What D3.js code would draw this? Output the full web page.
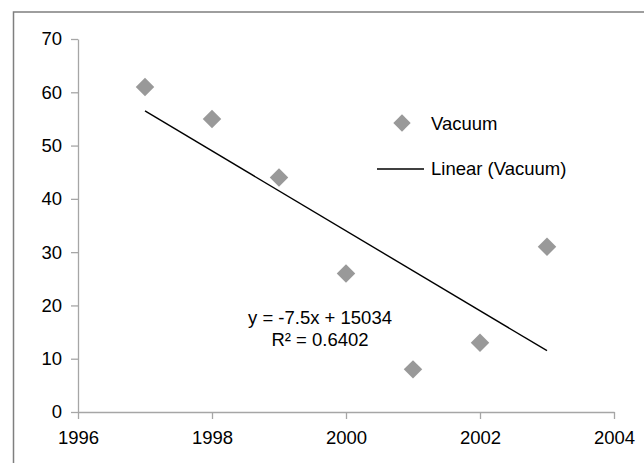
<!DOCTYPE html>
<html>
<head>
<meta charset="utf-8">
<script src="https://cdn.jsdelivr.net/npm/d3@7"></script>
<style>
  body { margin: 0; background: #fff; }
  svg text { font-family: "Liberation Sans", Arial, sans-serif; font-size: 18.5px; fill: #000; }
  .axis path, .axis line { stroke: #a6a6a6; stroke-width: 1.3px; }
</style>
</head>
<body>
<div id="chart"></div>
<script>

// DATA

const years = [1997, 1998, 1999, 2000, 2001, 2002, 2003];
const vacuum = [61, 55, 44, 26, 8, 13, 31];
const xTicks = [1996, 1998, 2000, 2002, 2004];
const yTicks = [0, 10, 20, 30, 40, 50, 60, 70];
const seriesName = "Vacuum";
const trendName = "Linear (Vacuum)";
const equationText = "y = -7.5x + 15034";
const r2Text = "R² = 0.6402";

// CANVAS

const width = 644;
const height = 463;
const margin = {top: 39, left: 78, right: 30, bottom: 51};

const svg = d3.select("#chart")
    .append("svg")
    .attr("width", width)
    .attr("height", height);

// chart border (runs off the right and bottom edges)
svg.append("rect")
    .attr("x", 13.5)
    .attr("y", 12)
    .attr("width", width + 20)
    .attr("height", height + 20)
    .attr("fill", "none")
    .attr("stroke", "#7f7f7f")
    .attr("stroke-width", 1.5);

// SCALES

const xScale = d3.scaleLinear()
    .domain([1996, 2004])
    .range([margin.left, width - margin.right]);

const yScale = d3.scaleLinear()
    .domain([0, 70])
    .range([height - margin.bottom, margin.top]);

// AXES

const xAxis = svg.append("g")
    .attr("class", "axis")
    .attr("transform", `translate(0, ${yScale(0)})`)
    .call(d3.axisBottom(xScale).tickValues(xTicks).tickFormat(d3.format("d")).tickSizeInner(7).tickSizeOuter(0).tickPadding(12));

const yAxis = svg.append("g")
    .attr("class", "axis")
    .attr("transform", `translate(${xScale(1996)}, 0)`)
    .call(d3.axisLeft(yScale).tickValues(yTicks).tickSizeInner(7).tickSizeOuter(0).tickPadding(9));

svg.selectAll(".axis text")
    .style("font-size", "18.5px")
    .attr("fill", "#000");

// TRENDLINE (least squares)

const mx = d3.mean(years);
const my = d3.mean(vacuum);
const slope = d3.sum(years, (x, i) => (x - mx) * (vacuum[i] - my)) / d3.sum(years, x => (x - mx) * (x - mx));
const intercept = my - slope * mx;
const xr = d3.extent(years);

svg.append("line")
    .attr("x1", xScale(xr[0]))
    .attr("y1", yScale(slope * xr[0] + intercept))
    .attr("x2", xScale(xr[1]))
    .attr("y2", yScale(slope * xr[1] + intercept))
    .attr("stroke", "#000")
    .attr("stroke-width", 1.4);

// POINTS

const diamond = d3.symbol().type(d3.symbolSquare).size(170);

svg.selectAll(".pt")
    .data(years)
    .enter()
    .append("path")
        .attr("class", "pt")
        .attr("d", diamond)
        .attr("transform", (d, i) => `translate(${xScale(d)}, ${yScale(vacuum[i])}) rotate(45)`)
        .attr("fill", "#999999");

// EQUATION LABEL

svg.append("text")
    .attr("x", 320)
    .attr("y", 324)
    .attr("text-anchor", "middle")
    .text(equationText);

svg.append("text")
    .attr("x", 320)
    .attr("y", 346)
    .attr("text-anchor", "middle")
    .text(r2Text);

// LEGEND

svg.append("path")
    .attr("d", d3.symbol().type(d3.symbolSquare).size(150))
    .attr("transform", "translate(402, 123) rotate(45)")
    .attr("fill", "#999999");

svg.append("text")
    .attr("x", 431)
    .attr("y", 130)
    .text(seriesName);

svg.append("line")
    .attr("x1", 377)
    .attr("x2", 424)
    .attr("y1", 169)
    .attr("y2", 169)
    .attr("stroke", "#000")
    .attr("stroke-width", 1.4);

svg.append("text")
    .attr("x", 431)
    .attr("y", 175)
    .text(trendName);

</script>
</body>
</html>
